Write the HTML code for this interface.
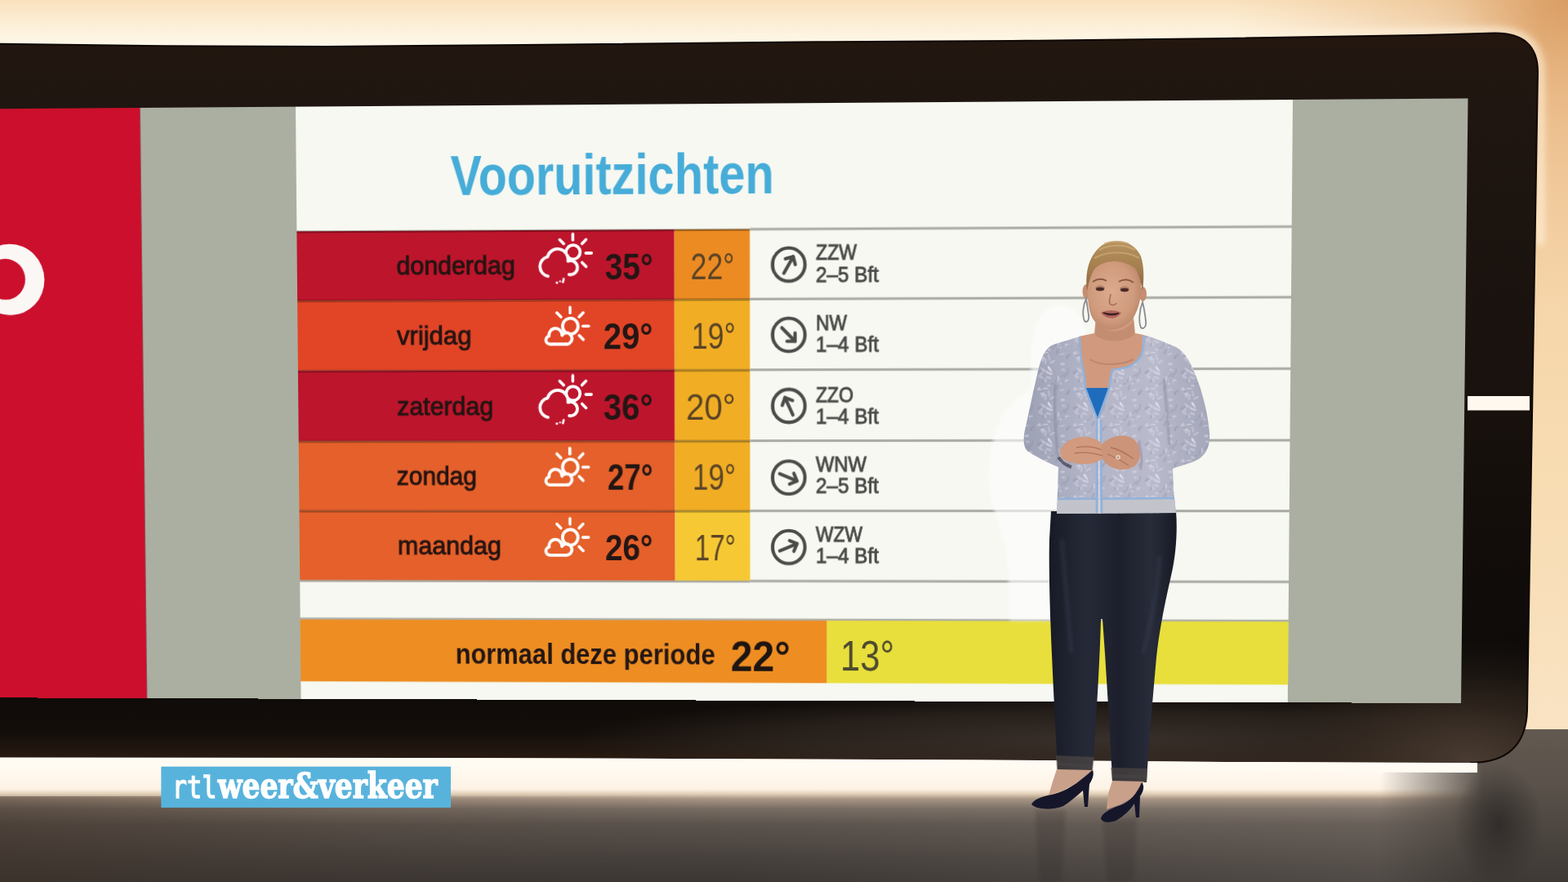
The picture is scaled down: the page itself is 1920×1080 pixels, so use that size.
<!DOCTYPE html>
<html><head><meta charset="utf-8"><title>Vooruitzichten</title>
<style>
html,body{margin:0;padding:0}
body{width:1920px;height:1080px;overflow:hidden;position:relative;background:#4a4440;font-family:'Liberation Sans', Arial, sans-serif}
.abs{position:absolute}
#screen{left:0;top:0;width:1920px;height:1080px;transform-origin:0 0;transform:matrix3d(0.973500306,-0.00882766925,0,-1.45820624e-05,0.0143472546,1.01174318,0,1.44316108e-05,0,0,1,0,2.54867142,-0.114806314,0,1)}
</style></head><body>
<svg class="abs" style="left:0;top:0" width="1920" height="1080">
 <defs>
  <linearGradient id="wallg" gradientUnits="userSpaceOnUse" x1="0" y1="0" x2="0" y2="62">
   <stop offset="0" stop-color="#f9e1bd"/><stop offset="0.4" stop-color="#fcedd3"/><stop offset="1" stop-color="#fffaee"/>
  </linearGradient>
  <radialGradient id="wallr" gradientUnits="userSpaceOnUse" cx="1920" cy="0" r="420" gradientTransform="translate(1920 0) scale(1 0.9) translate(-1920 0)">
   <stop offset="0" stop-color="#cf8a4c" stop-opacity="0.7"/><stop offset="0.4" stop-color="#de9f62" stop-opacity="0.35"/><stop offset="1" stop-color="#e8b584" stop-opacity="0"/>
  </radialGradient>
  <linearGradient id="wallrv" x1="0" y1="0" x2="0" y2="1">
   <stop offset="0" stop-color="#f1c99c"/><stop offset="0.1" stop-color="#f3cfa4"/><stop offset="0.35" stop-color="#f5d4a8"/><stop offset="0.65" stop-color="#f8dcb2"/><stop offset="1" stop-color="#f9e3c3"/>
  </linearGradient>
  <linearGradient id="floorg" x1="0" y1="0" x2="0" y2="1">
   <stop offset="0" stop-color="#fffaf2"/><stop offset="0.1" stop-color="#fff9f0"/><stop offset="0.25" stop-color="#fdf3e5"/><stop offset="0.29" stop-color="#e2cfb6"/><stop offset="0.33" stop-color="#a99686"/><stop offset="0.41" stop-color="#786c62"/><stop offset="0.54" stop-color="#5a524c"/><stop offset="0.8" stop-color="#47413d"/><stop offset="1" stop-color="#3c3734"/>
  </linearGradient>
  <linearGradient id="framev" x1="0" y1="0" x2="0" y2="1">
   <stop offset="0" stop-color="#23170f"/><stop offset="0.1" stop-color="#1f1611"/><stop offset="0.5" stop-color="#18110d"/><stop offset="0.88" stop-color="#0d0a08"/><stop offset="0.96" stop-color="#140e0a"/><stop offset="1" stop-color="#2c1e14"/>
  </linearGradient>
  <radialGradient id="frameR" cx="0.5" cy="0.5" r="0.5">
   <stop offset="0" stop-color="#4c3e33" stop-opacity="0.9"/><stop offset="0.5" stop-color="#3a2e25" stop-opacity="0.6"/><stop offset="1" stop-color="#2a211b" stop-opacity="0"/>
  </radialGradient>
  <radialGradient id="legsh" cx="0.5" cy="0.5" r="0.5">
   <stop offset="0" stop-color="#2a2624" stop-opacity="0.8"/><stop offset="1" stop-color="#2a2624" stop-opacity="0"/>
  </radialGradient>
 </defs>
 <linearGradient id="hfade" gradientUnits="userSpaceOnUse" x1="1790" y1="0" x2="1890" y2="0"><stop offset="0" stop-color="#fff"/><stop offset="1" stop-color="#000"/></linearGradient>
 <mask id="bandmask"><rect x="0" y="0" width="1920" height="62" fill="url(#hfade)"/></mask>
 <rect x="1760" y="0" width="160" height="900" fill="url(#wallrv)"/>
 <rect x="0" y="0" width="1920" height="62" fill="url(#wallg)" mask="url(#bandmask)"/>
 <rect x="1300" y="0" width="620" height="900" fill="url(#wallr)"/>
 <rect x="1872" y="893" width="48" height="8" fill="#fbf1e4"/>
 <rect x="0" y="928" width="1920" height="152" fill="url(#floorg)"/>
 <linearGradient id="floorL" x1="0" y1="0" x2="1" y2="0"><stop offset="0" stop-color="#3a2c22" stop-opacity="0.45"/><stop offset="0.5" stop-color="#3a2c22" stop-opacity="0.15"/><stop offset="1" stop-color="#3a2c22" stop-opacity="0"/></linearGradient>
 <rect x="0" y="975" width="900" height="105" fill="url(#floorL)"/>
 <linearGradient id="floorRt" gradientUnits="userSpaceOnUse" x1="900" y1="0" x2="1700" y2="0"><stop offset="0" stop-color="#9a9088" stop-opacity="0"/><stop offset="1" stop-color="#9a9088" stop-opacity="0.22"/></linearGradient>
 <rect x="900" y="980" width="1020" height="100" fill="url(#floorRt)"/>
 <linearGradient id="floorRv" x1="0" y1="0" x2="0" y2="1"><stop offset="0" stop-color="#625950"/><stop offset="0.35" stop-color="#5a524b"/><stop offset="1" stop-color="#3e3935"/></linearGradient>
 <linearGradient id="fadeRm" gradientUnits="userSpaceOnUse" x1="1690" y1="0" x2="1815" y2="0"><stop offset="0" stop-color="#000"/><stop offset="1" stop-color="#fff"/></linearGradient>
 <mask id="frm"><rect x="1600" y="890" width="320" height="190" fill="url(#fadeRm)"/></mask>
 <rect x="1600" y="893" width="320" height="187" fill="url(#floorRv)" mask="url(#frm)"/>
 <ellipse cx="1835" cy="1010" rx="55" ry="75" fill="url(#legsh)"/>
 <filter id="halo"><feGaussianBlur stdDeviation="4"/></filter>
 <path d="M1500,44 L1830,38 Q1886,38 1886,90 L1886,300" stroke="#fff3de" stroke-width="10" fill="none" opacity="0.7" filter="url(#halo)"/>
 <path d="M-10,53.4 L0,53.7 L200,56.2 L400,57 L640,55 L1000,51.3 L1240,50 L1500,46.9 L1740,43.1 L1830,40.5 Q1883,40 1883,88 L1870,870 Q1868,934 1800,934 L1500,933 L1200,930.5 L600,928.2 L-10,927.4 Z" fill="url(#framev)"/>
 <clipPath id="frclip"><path d="M-10,53.4 L0,53.7 L200,56.2 L400,57 L640,55 L1000,51.3 L1240,50 L1500,46.9 L1740,43.1 L1830,40.5 Q1883,40 1883,88 L1870,870 Q1868,934 1800,934 L1500,933 L1200,930.5 L600,928.2 L-10,927.4 Z"/></clipPath>
 <radialGradient id="frameB" cx="0.5" cy="0.5" r="0.5"><stop offset="0" stop-color="#3e3530" stop-opacity="0.85"/><stop offset="0.6" stop-color="#3a312b" stop-opacity="0.5"/><stop offset="1" stop-color="#3a312b" stop-opacity="0"/></radialGradient>
 <ellipse cx="1350" cy="905" rx="650" ry="55" fill="url(#frameB)" clip-path="url(#frclip)"/>
 <ellipse cx="1800" cy="930" rx="260" ry="150" fill="url(#frameR)" clip-path="url(#frclip)"/>
 <path d="M-10,53.4 L0,53.7 L200,56.2 L400,57 L640,55 L1000,51.3 L1240,50 L1500,46.9 L1740,43.1 L1830,40.5 Q1883,40 1883,88 L1870,870 Q1868,934 1800,934" stroke="#100805" stroke-width="2" fill="none"/>
 <path d="M0,927.4 L600,928.2 L1200,930.5 L1500,933 L1809,934 L1809,946 L1500,945 L1200,942.5 L600,940.5 L0,940 Z" fill="#fffbf3"/>
 <rect x="1797" y="485" width="76" height="17.5" fill="#fff8ee"/>
</svg>
<div id="screen" class="abs"><svg width="1920" height="1080" style="position:absolute;left:0;top:0;overflow:visible"><rect x="-60" y="132" width="231.5" height="723" fill="#cb0f2d"/><path fill-rule="evenodd" fill="#fbf7f5" d="M-38.5,340.3 a43.5,43.5 0 1,0 87,0 a43.5,43.5 0 1,0 -87,0 Z M-25.7,339.8 a25,25 0 1,0 50,0 a25,25 0 1,0 -50,0 Z"/><rect x="171.5" y="132" width="196" height="723" fill="#abafa1"/><rect x="366" y="132" width="1222" height="723" fill="#f6f8f1"/><rect x="1587" y="132" width="210" height="723" fill="#abafa1"/><text x="558.0" y="239.8" font-family="'Liberation Sans', Arial, sans-serif" font-weight="700" font-size="69" fill="#46acd8" textLength="399.4" lengthAdjust="spacingAndGlyphs">Vooruitzichten</text><rect x="366" y="283.0" width="468.6" height="84.19999999999999" fill="#bd152c"/><rect x="834.6" y="283.0" width="92.79999999999995" height="84.19999999999999" fill="#ec8b22"/><rect x="366" y="282.0" width="561.4" height="3" fill="#000" opacity="0.3"/><rect x="366" y="367.2" width="468.6" height="85.5" fill="#e14526"/><rect x="834.6" y="367.2" width="92.79999999999995" height="85.5" fill="#f1ae24"/><rect x="366" y="366.2" width="561.4" height="3" fill="#000" opacity="0.3"/><rect x="366" y="452.7" width="468.6" height="85.90000000000003" fill="#bd152c"/><rect x="834.6" y="452.7" width="92.79999999999995" height="85.90000000000003" fill="#f1ae24"/><rect x="366" y="451.7" width="561.4" height="3" fill="#000" opacity="0.3"/><rect x="366" y="538.6" width="468.6" height="85.10000000000002" fill="#e5602a"/><rect x="834.6" y="538.6" width="92.79999999999995" height="85.10000000000002" fill="#f1ae24"/><rect x="366" y="537.6" width="561.4" height="3" fill="#000" opacity="0.3"/><rect x="366" y="623.7" width="468.6" height="85.39999999999998" fill="#e5602a"/><rect x="834.6" y="623.7" width="92.79999999999995" height="85.39999999999998" fill="#f6c934"/><rect x="366" y="622.7" width="561.4" height="3" fill="#000" opacity="0.3"/><rect x="927.4" y="281.5" width="659.6" height="3" fill="#a9aaa4"/><rect x="927.4" y="365.7" width="659.6" height="3" fill="#a9aaa4"/><rect x="927.4" y="451.2" width="659.6" height="3" fill="#a9aaa4"/><rect x="927.4" y="537.1" width="659.6" height="3" fill="#a9aaa4"/><rect x="927.4" y="622.2" width="659.6" height="3" fill="#a9aaa4"/><rect x="927.4" y="707.6" width="659.6" height="3" fill="#a9aaa4"/><rect x="366" y="708.6" width="561.4" height="2.5" fill="#a9aaa4"/><text x="490.1" y="335.6" font-family="'Liberation Sans', Arial, sans-serif" font-weight="400" font-size="31" fill="#251412" stroke="#251412" stroke-width="0.95" textLength="147.5" lengthAdjust="spacingAndGlyphs">donderdag</text><text x="748.7" y="343.3" font-family="'Liberation Sans', Arial, sans-serif" font-weight="700" font-size="44" fill="#231614" textLength="59.5" lengthAdjust="spacingAndGlyphs">35°</text><text x="854.5" y="342.6" font-family="'Liberation Sans', Arial, sans-serif" font-weight="400" font-size="44" fill="#5a4326" textLength="54.2" lengthAdjust="spacingAndGlyphs">22°</text><text x="489.9" y="420.6" font-family="'Liberation Sans', Arial, sans-serif" font-weight="400" font-size="31" fill="#251412" stroke="#251412" stroke-width="0.95" textLength="93.1" lengthAdjust="spacingAndGlyphs">vrijdag</text><text x="746.6" y="427.4" font-family="'Liberation Sans', Arial, sans-serif" font-weight="700" font-size="44" fill="#231614" textLength="61.2" lengthAdjust="spacingAndGlyphs">29°</text><text x="855.6" y="427.5" font-family="'Liberation Sans', Arial, sans-serif" font-weight="400" font-size="44" fill="#5a4326" textLength="54.4" lengthAdjust="spacingAndGlyphs">19°</text><text x="489.5" y="506.6" font-family="'Liberation Sans', Arial, sans-serif" font-weight="400" font-size="31" fill="#251412" stroke="#251412" stroke-width="0.95" textLength="120.1" lengthAdjust="spacingAndGlyphs">zaterdag</text><text x="746.3" y="512.9" font-family="'Liberation Sans', Arial, sans-serif" font-weight="700" font-size="44" fill="#231614" textLength="61.3" lengthAdjust="spacingAndGlyphs">36°</text><text x="848.4" y="513.0" font-family="'Liberation Sans', Arial, sans-serif" font-weight="400" font-size="44" fill="#5a4326" textLength="61.5" lengthAdjust="spacingAndGlyphs">20°</text><text x="488.6" y="592.3" font-family="'Liberation Sans', Arial, sans-serif" font-weight="400" font-size="31" fill="#251412" stroke="#251412" stroke-width="0.95" textLength="99.9" lengthAdjust="spacingAndGlyphs">zondag</text><text x="751.0" y="598.3" font-family="'Liberation Sans', Arial, sans-serif" font-weight="700" font-size="44" fill="#231614" textLength="56.3" lengthAdjust="spacingAndGlyphs">27°</text><text x="856.3" y="598.3" font-family="'Liberation Sans', Arial, sans-serif" font-weight="400" font-size="44" fill="#5a4326" textLength="53.5" lengthAdjust="spacingAndGlyphs">19°</text><text x="489.0" y="677.0" font-family="'Liberation Sans', Arial, sans-serif" font-weight="400" font-size="31" fill="#251412" stroke="#251412" stroke-width="0.95" textLength="129.6" lengthAdjust="spacingAndGlyphs">maandag</text><text x="747.7" y="684.0" font-family="'Liberation Sans', Arial, sans-serif" font-weight="700" font-size="44" fill="#231614" textLength="59.4" lengthAdjust="spacingAndGlyphs">26°</text><text x="859.1" y="683.8" font-family="'Liberation Sans', Arial, sans-serif" font-weight="400" font-size="44" fill="#5a4326" textLength="50.5" lengthAdjust="spacingAndGlyphs">17°</text><g transform="translate(709.2,310.9)"><line x1="0.0" y1="-16.0" x2="0.0" y2="-23.0" stroke="#fff" stroke-width="3.6" stroke-linecap="round"/><line x1="-11.3" y1="-11.3" x2="-16.3" y2="-16.3" stroke="#fff" stroke-width="3.6" stroke-linecap="round"/><line x1="11.3" y1="-11.3" x2="16.3" y2="-16.3" stroke="#fff" stroke-width="3.6" stroke-linecap="round"/><line x1="16.0" y1="0.0" x2="23.0" y2="0.0" stroke="#fff" stroke-width="3.6" stroke-linecap="round"/><line x1="11.3" y1="11.3" x2="16.3" y2="16.3" stroke="#fff" stroke-width="3.6" stroke-linecap="round"/><circle cx="0.3" cy="-1.2" r="8.6" fill="none" stroke="#fff" stroke-width="3.8"/><path d="M-31.07,27.72 A11.9,11.9 0 0 1 -31.5,4.36 A13,13 0 0 1 -6.09,9.58 A8.5,8.5 0 1 1 -4.48,25.87" fill="#bd152c" stroke="#fff" stroke-width="3.8" stroke-linecap="round" stroke-linejoin="round"/><line x1="-11.5" y1="31" x2="-12.5" y2="35" stroke="#fff" stroke-width="2.6" stroke-linecap="round"/><circle cx="-20" cy="35.5" r="1.5" fill="#fff"/><circle cx="-16" cy="34" r="1.2" fill="#fff"/></g><g transform="translate(705.3,399.3)"><line x1="0.0" y1="-16.0" x2="0.0" y2="-23.0" stroke="#fff" stroke-width="3.6" stroke-linecap="round"/><line x1="-11.3" y1="-11.3" x2="-16.3" y2="-16.3" stroke="#fff" stroke-width="3.6" stroke-linecap="round"/><line x1="11.3" y1="-11.3" x2="16.3" y2="-16.3" stroke="#fff" stroke-width="3.6" stroke-linecap="round"/><line x1="16.0" y1="0.0" x2="23.0" y2="0.0" stroke="#fff" stroke-width="3.6" stroke-linecap="round"/><line x1="11.3" y1="11.3" x2="16.3" y2="16.3" stroke="#fff" stroke-width="3.6" stroke-linecap="round"/><circle cx="0.3" cy="0" r="9.6" fill="none" stroke="#fff" stroke-width="3.8"/><path d="M-25,21.7 L-5,21.7 A6.8,6.8 0 1 0 -10.1,11 A8,8 0 1 0 -26,11.8 A5,5 0 0 0 -25,21.7 Z" fill="#e14526" stroke="#fff" stroke-width="3.8" stroke-linecap="round" stroke-linejoin="round"/></g><g transform="translate(708.4,482.1)"><line x1="0.0" y1="-16.0" x2="0.0" y2="-23.0" stroke="#fff" stroke-width="3.6" stroke-linecap="round"/><line x1="-11.3" y1="-11.3" x2="-16.3" y2="-16.3" stroke="#fff" stroke-width="3.6" stroke-linecap="round"/><line x1="11.3" y1="-11.3" x2="16.3" y2="-16.3" stroke="#fff" stroke-width="3.6" stroke-linecap="round"/><line x1="16.0" y1="0.0" x2="23.0" y2="0.0" stroke="#fff" stroke-width="3.6" stroke-linecap="round"/><line x1="11.3" y1="11.3" x2="16.3" y2="16.3" stroke="#fff" stroke-width="3.6" stroke-linecap="round"/><circle cx="0.3" cy="-1.2" r="8.6" fill="none" stroke="#fff" stroke-width="3.8"/><path d="M-31.07,27.72 A11.9,11.9 0 0 1 -31.5,4.36 A13,13 0 0 1 -6.09,9.58 A8.5,8.5 0 1 1 -4.48,25.87" fill="#bd152c" stroke="#fff" stroke-width="3.8" stroke-linecap="round" stroke-linejoin="round"/><line x1="-11.5" y1="31" x2="-12.5" y2="35" stroke="#fff" stroke-width="2.6" stroke-linecap="round"/><circle cx="-20" cy="35.5" r="1.5" fill="#fff"/><circle cx="-16" cy="34" r="1.2" fill="#fff"/></g><g transform="translate(704.5,570.5)"><line x1="0.0" y1="-16.0" x2="0.0" y2="-23.0" stroke="#fff" stroke-width="3.6" stroke-linecap="round"/><line x1="-11.3" y1="-11.3" x2="-16.3" y2="-16.3" stroke="#fff" stroke-width="3.6" stroke-linecap="round"/><line x1="11.3" y1="-11.3" x2="16.3" y2="-16.3" stroke="#fff" stroke-width="3.6" stroke-linecap="round"/><line x1="16.0" y1="0.0" x2="23.0" y2="0.0" stroke="#fff" stroke-width="3.6" stroke-linecap="round"/><line x1="11.3" y1="11.3" x2="16.3" y2="16.3" stroke="#fff" stroke-width="3.6" stroke-linecap="round"/><circle cx="0.3" cy="0" r="9.6" fill="none" stroke="#fff" stroke-width="3.8"/><path d="M-25,21.7 L-5,21.7 A6.8,6.8 0 1 0 -10.1,11 A8,8 0 1 0 -26,11.8 A5,5 0 0 0 -25,21.7 Z" fill="#e5602a" stroke="#fff" stroke-width="3.8" stroke-linecap="round" stroke-linejoin="round"/></g><g transform="translate(704.1,656.1)"><line x1="0.0" y1="-16.0" x2="0.0" y2="-23.0" stroke="#fff" stroke-width="3.6" stroke-linecap="round"/><line x1="-11.3" y1="-11.3" x2="-16.3" y2="-16.3" stroke="#fff" stroke-width="3.6" stroke-linecap="round"/><line x1="11.3" y1="-11.3" x2="16.3" y2="-16.3" stroke="#fff" stroke-width="3.6" stroke-linecap="round"/><line x1="16.0" y1="0.0" x2="23.0" y2="0.0" stroke="#fff" stroke-width="3.6" stroke-linecap="round"/><line x1="11.3" y1="11.3" x2="16.3" y2="16.3" stroke="#fff" stroke-width="3.6" stroke-linecap="round"/><circle cx="0.3" cy="0" r="9.6" fill="none" stroke="#fff" stroke-width="3.8"/><path d="M-25,21.7 L-5,21.7 A6.8,6.8 0 1 0 -10.1,11 A8,8 0 1 0 -26,11.8 A5,5 0 0 0 -25,21.7 Z" fill="#e5602a" stroke="#fff" stroke-width="3.8" stroke-linecap="round" stroke-linejoin="round"/></g><g transform="translate(975.2,325.8)" fill="none" stroke="#4b4b49" stroke-width="4.1" stroke-linecap="round" stroke-linejoin="round"><circle r="20"/><g transform="rotate(30)"><line x1="0" y1="12" x2="0" y2="-11"/><polyline points="-7,-4 0,-11 7,-4"/></g></g><text x="1008.5" y="320.1" font-family="'Liberation Sans', Arial, sans-serif" font-size="25" fill="#4a4a48" stroke="#4a4a48" stroke-width="0.9" textLength="50.1" lengthAdjust="spacingAndGlyphs">ZZW</text><text x="1008.5" y="346.6" font-family="'Liberation Sans', Arial, sans-serif" font-size="25" fill="#4a4a48" stroke="#4a4a48" stroke-width="0.9" textLength="77.1" lengthAdjust="spacingAndGlyphs">2–5 Bft</text><g transform="translate(975.2,410.5)" fill="none" stroke="#4b4b49" stroke-width="4.1" stroke-linecap="round" stroke-linejoin="round"><circle r="20"/><g transform="rotate(135)"><line x1="0" y1="12" x2="0" y2="-11"/><polyline points="-7,-4 0,-11 7,-4"/></g></g><text x="1008.5" y="404.7" font-family="'Liberation Sans', Arial, sans-serif" font-size="25" fill="#4a4a48" stroke="#4a4a48" stroke-width="0.9" textLength="38.1" lengthAdjust="spacingAndGlyphs">NW</text><text x="1008.5" y="431.3" font-family="'Liberation Sans', Arial, sans-serif" font-size="25" fill="#4a4a48" stroke="#4a4a48" stroke-width="0.9" textLength="77.2" lengthAdjust="spacingAndGlyphs">1–4 Bft</text><g transform="translate(975.2,496.4)" fill="none" stroke="#4b4b49" stroke-width="4.1" stroke-linecap="round" stroke-linejoin="round"><circle r="20"/><g transform="rotate(-25)"><line x1="0" y1="12" x2="0" y2="-11"/><polyline points="-7,-4 0,-11 7,-4"/></g></g><text x="1008.5" y="492.3" font-family="'Liberation Sans', Arial, sans-serif" font-size="25" fill="#4a4a48" stroke="#4a4a48" stroke-width="0.9" textLength="46.2" lengthAdjust="spacingAndGlyphs">ZZO</text><text x="1008.5" y="517.8" font-family="'Liberation Sans', Arial, sans-serif" font-size="25" fill="#4a4a48" stroke="#4a4a48" stroke-width="0.9" textLength="77.3" lengthAdjust="spacingAndGlyphs">1–4 Bft</text><g transform="translate(975.1,583.2)" fill="none" stroke="#4b4b49" stroke-width="4.1" stroke-linecap="round" stroke-linejoin="round"><circle r="20"/><g transform="rotate(112)"><line x1="0" y1="12" x2="0" y2="-11"/><polyline points="-7,-4 0,-11 7,-4"/></g></g><text x="1008.5" y="576.1" font-family="'Liberation Sans', Arial, sans-serif" font-size="25" fill="#4a4a48" stroke="#4a4a48" stroke-width="0.9" textLength="62.3" lengthAdjust="spacingAndGlyphs">WNW</text><text x="1008.5" y="602.3" font-family="'Liberation Sans', Arial, sans-serif" font-size="25" fill="#4a4a48" stroke="#4a4a48" stroke-width="0.9" textLength="77.4" lengthAdjust="spacingAndGlyphs">2–5 Bft</text><g transform="translate(975.1,667.8)" fill="none" stroke="#4b4b49" stroke-width="4.1" stroke-linecap="round" stroke-linejoin="round"><circle r="20"/><g transform="rotate(68)"><line x1="0" y1="12" x2="0" y2="-11"/><polyline points="-7,-4 0,-11 7,-4"/></g></g><text x="1008.5" y="661.5" font-family="'Liberation Sans', Arial, sans-serif" font-size="25" fill="#4a4a48" stroke="#4a4a48" stroke-width="0.9" textLength="57.3" lengthAdjust="spacingAndGlyphs">WZW</text><text x="1008.5" y="687.0" font-family="'Liberation Sans', Arial, sans-serif" font-size="25" fill="#4a4a48" stroke="#4a4a48" stroke-width="0.9" textLength="77.5" lengthAdjust="spacingAndGlyphs">1–4 Bft</text><rect x="366" y="756.2" width="656.2" height="77.2" fill="#ee8d22"/><rect x="1022.2" y="756.2" width="565" height="77.2" fill="#e8df3c"/><rect x="366" y="754.8" width="1221" height="2.4" fill="#b0b0a8"/><text x="560.4" y="811.0" font-family="'Liberation Sans', Arial, sans-serif" font-weight="700" font-size="36" fill="#231614" textLength="323.7" lengthAdjust="spacingAndGlyphs">normaal deze periode</text><text x="903.3" y="818.9" font-family="'Liberation Sans', Arial, sans-serif" font-weight="700" font-size="51" fill="#1e1512" textLength="73.6" lengthAdjust="spacingAndGlyphs">22°</text><text x="1038.8" y="818.4" font-family="'Liberation Sans', Arial, sans-serif" font-weight="400" font-size="51" fill="#4d4a2e" textLength="66.5" lengthAdjust="spacingAndGlyphs">13°</text></svg></div>
<svg class="abs" style="left:0;top:0" width="1920" height="1080"><defs>
 <linearGradient id="jk" x1="0" y1="0" x2="1" y2="0">
  <stop offset="0" stop-color="#9da1b4"/><stop offset="0.35" stop-color="#b3b5c8"/><stop offset="0.7" stop-color="#b9bacb"/><stop offset="1" stop-color="#a4a7ba"/>
 </linearGradient>
 <linearGradient id="jn" x1="0" y1="0" x2="1" y2="0">
  <stop offset="0" stop-color="#181b26"/><stop offset="0.3" stop-color="#262a38"/><stop offset="0.55" stop-color="#1c1f2b"/><stop offset="0.8" stop-color="#282c3a"/><stop offset="1" stop-color="#171a24"/>
 </linearGradient>
 <radialGradient id="face" cx="0.45" cy="0.45" r="0.6">
  <stop offset="0" stop-color="#dcaa8e"/><stop offset="0.7" stop-color="#cf9a7c"/><stop offset="1" stop-color="#b98468"/>
 </radialGradient>
 <linearGradient id="hair" x1="0" y1="0" x2="0" y2="1">
  <stop offset="0" stop-color="#b8935f"/><stop offset="0.6" stop-color="#a27c4c"/><stop offset="1" stop-color="#8a6540"/>
 </linearGradient>
 <pattern id="tex" width="44" height="44" patternUnits="userSpaceOnUse"><ellipse cx="19.9" cy="24.6" rx="4.3" ry="1.3" transform="rotate(91 19.9 24.6)" fill="#e4e2f0" opacity="0.40"/><ellipse cx="8.1" cy="22.5" rx="3.6" ry="1.6" transform="rotate(17 8.1 22.5)" fill="#e4e2f0" opacity="0.33"/><ellipse cx="4.0" cy="35.6" rx="3.7" ry="0.9" transform="rotate(177 4.0 35.6)" fill="#e4e2f0" opacity="0.49"/><ellipse cx="48.0" cy="35.6" rx="3.7" ry="0.9" transform="rotate(177 48.0 35.6)" fill="#e4e2f0" opacity="0.49"/><ellipse cx="28.8" cy="27.1" rx="2.4" ry="0.9" transform="rotate(95 28.8 27.1)" fill="#e4e2f0" opacity="0.26"/><ellipse cx="8.4" cy="10.6" rx="2.1" ry="1.3" transform="rotate(79 8.4 10.6)" fill="#e4e2f0" opacity="0.46"/><ellipse cx="22.8" cy="28.2" rx="3.2" ry="1.5" transform="rotate(82 22.8 28.2)" fill="#e4e2f0" opacity="0.32"/><ellipse cx="-0.1" cy="-0.2" rx="4.1" ry="1.5" transform="rotate(57 -0.1 -0.2)" fill="#e4e2f0" opacity="0.31"/><ellipse cx="-0.1" cy="43.8" rx="4.1" ry="1.5" transform="rotate(57 -0.1 43.8)" fill="#e4e2f0" opacity="0.31"/><ellipse cx="43.9" cy="-0.2" rx="4.1" ry="1.5" transform="rotate(57 43.9 -0.2)" fill="#e4e2f0" opacity="0.31"/><ellipse cx="43.9" cy="43.8" rx="4.1" ry="1.5" transform="rotate(57 43.9 43.8)" fill="#e4e2f0" opacity="0.31"/><ellipse cx="12.7" cy="3.1" rx="3.9" ry="1.3" transform="rotate(152 12.7 3.1)" fill="#e4e2f0" opacity="0.35"/><ellipse cx="12.7" cy="47.1" rx="3.9" ry="1.3" transform="rotate(152 12.7 47.1)" fill="#e4e2f0" opacity="0.35"/><ellipse cx="-1.8" cy="37.3" rx="2.0" ry="1.1" transform="rotate(164 -1.8 37.3)" fill="#e4e2f0" opacity="0.37"/><ellipse cx="42.2" cy="37.3" rx="2.0" ry="1.1" transform="rotate(164 42.2 37.3)" fill="#e4e2f0" opacity="0.37"/><ellipse cx="-0.9" cy="17.5" rx="2.2" ry="1.5" transform="rotate(140 -0.9 17.5)" fill="#e4e2f0" opacity="0.32"/><ellipse cx="43.1" cy="17.5" rx="2.2" ry="1.5" transform="rotate(140 43.1 17.5)" fill="#e4e2f0" opacity="0.32"/><ellipse cx="3.8" cy="14.6" rx="4.4" ry="1.6" transform="rotate(21 3.8 14.6)" fill="#e4e2f0" opacity="0.31"/><ellipse cx="47.8" cy="14.6" rx="4.4" ry="1.6" transform="rotate(21 47.8 14.6)" fill="#e4e2f0" opacity="0.31"/><ellipse cx="4.4" cy="2.6" rx="4.0" ry="1.1" transform="rotate(101 4.4 2.6)" fill="#e4e2f0" opacity="0.36"/><ellipse cx="4.4" cy="46.6" rx="4.0" ry="1.1" transform="rotate(101 4.4 46.6)" fill="#e4e2f0" opacity="0.36"/><ellipse cx="48.4" cy="2.6" rx="4.0" ry="1.1" transform="rotate(101 48.4 2.6)" fill="#e4e2f0" opacity="0.36"/><ellipse cx="48.4" cy="46.6" rx="4.0" ry="1.1" transform="rotate(101 48.4 46.6)" fill="#e4e2f0" opacity="0.36"/><ellipse cx="8.4" cy="32.2" rx="2.3" ry="1.5" transform="rotate(21 8.4 32.2)" fill="#e4e2f0" opacity="0.36"/><ellipse cx="9.4" cy="11.9" rx="4.4" ry="1.6" transform="rotate(55 9.4 11.9)" fill="#e4e2f0" opacity="0.47"/><ellipse cx="9.3" cy="17.3" rx="4.1" ry="1.5" transform="rotate(18 9.3 17.3)" fill="#e4e2f0" opacity="0.50"/><ellipse cx="9.4" cy="11.4" rx="3.9" ry="1.2" transform="rotate(53 9.4 11.4)" fill="#e4e2f0" opacity="0.27"/><ellipse cx="4.0" cy="25.6" rx="2.6" ry="1.4" transform="rotate(67 4.0 25.6)" fill="#e4e2f0" opacity="0.36"/><ellipse cx="48.0" cy="25.6" rx="2.6" ry="1.4" transform="rotate(67 48.0 25.6)" fill="#e4e2f0" opacity="0.36"/><ellipse cx="-1.8" cy="21.3" rx="3.4" ry="1.7" transform="rotate(33 -1.8 21.3)" fill="#e4e2f0" opacity="0.29"/><ellipse cx="42.2" cy="21.3" rx="3.4" ry="1.7" transform="rotate(33 42.2 21.3)" fill="#e4e2f0" opacity="0.29"/><ellipse cx="-4.0" cy="36.0" rx="2.6" ry="1.1" transform="rotate(133 -4.0 36.0)" fill="#e4e2f0" opacity="0.49"/><ellipse cx="40.0" cy="36.0" rx="2.6" ry="1.1" transform="rotate(133 40.0 36.0)" fill="#e4e2f0" opacity="0.49"/><ellipse cx="8.6" cy="-2.2" rx="4.2" ry="1.4" transform="rotate(76 8.6 -2.2)" fill="#e4e2f0" opacity="0.28"/><ellipse cx="8.6" cy="41.8" rx="4.2" ry="1.4" transform="rotate(76 8.6 41.8)" fill="#e4e2f0" opacity="0.28"/><ellipse cx="1.7" cy="-1.6" rx="2.6" ry="1.5" transform="rotate(46 1.7 -1.6)" fill="#e4e2f0" opacity="0.46"/><ellipse cx="1.7" cy="42.4" rx="2.6" ry="1.5" transform="rotate(46 1.7 42.4)" fill="#e4e2f0" opacity="0.46"/><ellipse cx="45.7" cy="-1.6" rx="2.6" ry="1.5" transform="rotate(46 45.7 -1.6)" fill="#e4e2f0" opacity="0.46"/><ellipse cx="45.7" cy="42.4" rx="2.6" ry="1.5" transform="rotate(46 45.7 42.4)" fill="#e4e2f0" opacity="0.46"/><ellipse cx="26.2" cy="12.9" rx="2.4" ry="1.5" transform="rotate(12 26.2 12.9)" fill="#e4e2f0" opacity="0.31"/><ellipse cx="24.6" cy="37.5" rx="3.5" ry="1.2" transform="rotate(165 24.6 37.5)" fill="#e4e2f0" opacity="0.30"/><ellipse cx="0.7" cy="11.8" rx="3.1" ry="1.0" transform="rotate(32 0.7 11.8)" fill="#e4e2f0" opacity="0.34"/><ellipse cx="44.7" cy="11.8" rx="3.1" ry="1.0" transform="rotate(32 44.7 11.8)" fill="#e4e2f0" opacity="0.34"/><ellipse cx="25.2" cy="5.8" rx="2.9" ry="1.7" transform="rotate(176 25.2 5.8)" fill="#e4e2f0" opacity="0.41"/><ellipse cx="25.2" cy="49.8" rx="2.9" ry="1.7" transform="rotate(176 25.2 49.8)" fill="#e4e2f0" opacity="0.41"/><ellipse cx="30.4" cy="25.7" rx="2.4" ry="0.9" transform="rotate(3 30.4 25.7)" fill="#e4e2f0" opacity="0.48"/><ellipse cx="30.8" cy="42.4" rx="2.0" ry="1.6" transform="rotate(87 30.8 42.4)" fill="#85879e" opacity="0.25"/><ellipse cx="32.1" cy="14.0" rx="4.0" ry="1.1" transform="rotate(98 32.1 14.0)" fill="#85879e" opacity="0.25"/><ellipse cx="32.4" cy="39.6" rx="3.5" ry="1.7" transform="rotate(143 32.4 39.6)" fill="#85879e" opacity="0.25"/><ellipse cx="40.3" cy="15.5" rx="3.4" ry="1.9" transform="rotate(157 40.3 15.5)" fill="#85879e" opacity="0.25"/><ellipse cx="18.4" cy="34.8" rx="3.7" ry="1.6" transform="rotate(112 18.4 34.8)" fill="#85879e" opacity="0.25"/><ellipse cx="16.8" cy="25.6" rx="3.2" ry="1.1" transform="rotate(115 16.8 25.6)" fill="#85879e" opacity="0.25"/><ellipse cx="43.7" cy="38.7" rx="3.5" ry="1.4" transform="rotate(132 43.7 38.7)" fill="#85879e" opacity="0.25"/><ellipse cx="25.6" cy="19.4" rx="3.7" ry="1.1" transform="rotate(135 25.6 19.4)" fill="#85879e" opacity="0.25"/><ellipse cx="1.3" cy="26.5" rx="3.0" ry="1.2" transform="rotate(126 1.3 26.5)" fill="#85879e" opacity="0.25"/><ellipse cx="21.9" cy="27.0" rx="3.8" ry="1.3" transform="rotate(2 21.9 27.0)" fill="#85879e" opacity="0.25"/><ellipse cx="13.2" cy="29.8" rx="2.4" ry="1.2" transform="rotate(163 13.2 29.8)" fill="#85879e" opacity="0.25"/><ellipse cx="29.0" cy="19.4" rx="3.8" ry="1.3" transform="rotate(120 29.0 19.4)" fill="#85879e" opacity="0.25"/></pattern>
 <filter id="blur2"><feGaussianBlur stdDeviation="2"/></filter>
 <filter id="blur1"><feGaussianBlur stdDeviation="0.8"/></filter>
</defs><path d="M1298,374 C1318,374 1330,392 1330,418 L1330,760 L1236,760 C1235,720 1236,690 1230,665 C1224,645 1212,615 1211,590 C1210,560 1215,530 1228,508 C1238,492 1252,482 1264,476 C1262,460 1262,430 1265,410 C1270,388 1282,374 1298,374 Z" fill="#ffffff" opacity="0.6" filter="url(#blur2)"/><path d="M1287,626 L1440,626 C1442,650 1440,680 1434,705 C1426,740 1419,775 1416,805 C1412,850 1407,905 1404,958 L1362,957 C1360,905 1356,850 1353,800 L1350,758 L1348,758 C1347,800 1344,850 1341,900 L1337,946 L1295,943 C1293,900 1290,850 1288,802 C1286,760 1284,700 1285,660 Z" fill="url(#jn)"/><path d="M1300,660 C1305,720 1310,780 1312,800 M1420,680 C1418,720 1410,760 1400,800" stroke="#3a3f52" stroke-width="4" fill="none" opacity="0.5" filter="url(#blur2)"/><path d="M1295,935 L1337,939" stroke="#30343f" stroke-width="4" opacity="0.7"/><path d="M1362,950 L1403,951" stroke="#30343f" stroke-width="4" opacity="0.7"/><path d="M1268,992 L1305,992 L1300,1080 L1272,1080 Z" fill="#2a2628" opacity="0.2" filter="url(#blur2)"/><path d="M1350,1006 L1392,1000 L1388,1080 L1356,1080 Z" fill="#2a2628" opacity="0.2" filter="url(#blur2)"/><path d="M1293,925 L1340,927 L1338,944 L1294,943 Z" fill="#5a5048" opacity="0.55"/><path d="M1360,940 L1405,941 L1404,958 L1362,957 Z" fill="#5a5048" opacity="0.55"/><path d="M1294,942 L1338,943 L1322,957 L1302,968 L1284,974 L1289,957 Z" fill="#c9a08a"/><path d="M1362,956 L1401,957 L1390,974 L1372,985 L1355,991 L1357,972 Z" fill="#c9a08a"/><path d="M1263,985 C1266,979 1276,975 1288,973 C1300,970 1312,964 1322,956 C1330,950 1335,945 1338,943 C1340,948 1338,954 1334,960 L1332,988 L1328,988 L1326,968 C1318,975 1310,982 1302,987 C1292,991 1272,993 1263,985 Z" fill="#15162a"/><path d="M1348,1002 C1350,995 1360,990 1372,986 C1384,981 1392,972 1398,958 C1402,962 1400,970 1396,975 L1395,1001 L1391,1001 L1389,984 C1384,992 1376,999 1368,1004 C1360,1008 1350,1008 1348,1002 Z" fill="#15162a"/><path d="M1342,388 L1388,388 L1390,408 L1400,410 L1398,440 L1382,450 L1362,452 L1357,478 L1327,478 L1325,452 L1321,412 L1340,408 Z" fill="#d19a7e"/><path d="M1342,392 C1350,410 1378,410 1388,392 L1389,410 C1376,420 1352,420 1341,410 Z" fill="#b07a62" opacity="0.4"/><path d="M1335,440 C1345,448 1372,448 1388,440" stroke="#b57a60" stroke-width="2" fill="none" opacity="0.6"/><path id="jkt" d="M1322,412 C1310,416 1298,419 1290,422 C1282,425 1277,432 1272,450 C1266,475 1261,500 1256,522 C1252,538 1253,548 1259,553 C1270,560 1284,567 1296,572 L1295,600 L1294,629 L1440,628 L1437,600 L1436,574 C1445,570 1460,567 1468,562 C1478,555 1482,545 1481,530 C1479,505 1472,480 1465,462 C1458,444 1452,432 1440,425 C1428,420 1415,414 1400,410 C1402,425 1398,440 1384,448 C1375,452 1366,452 1362,453 C1360,462 1359,470 1358,476 L1344,513 L1329,476 C1329,468 1328,460 1326,452 C1323,440 1322,428 1322,412 Z" fill="url(#jk)"/><path d="M1322,412 C1310,416 1298,419 1290,422 C1282,425 1277,432 1272,450 C1266,475 1261,500 1256,522 C1252,538 1253,548 1259,553 C1270,560 1284,567 1296,572 L1295,600 L1294,629 L1440,628 L1437,600 L1436,574 C1445,570 1460,567 1468,562 C1478,555 1482,545 1481,530 C1479,505 1472,480 1465,462 C1458,444 1452,432 1440,425 C1428,420 1415,414 1400,410 C1402,425 1398,440 1384,448 C1375,452 1366,452 1362,453 C1360,462 1359,470 1358,476 L1344,513 L1329,476 C1329,468 1328,460 1326,452 C1323,440 1322,428 1322,412 Z" fill="url(#tex)"/><path d="M1328,475 L1359,475 L1344,514 Z" fill="#1f6cbc"/><path d="M1292,470 C1290,500 1292,530 1296,560" stroke="#8a8da0" stroke-width="3" fill="none" opacity="0.7" filter="url(#blur1)"/><path d="M1425,465 C1428,490 1430,515 1432,545" stroke="#8a8da0" stroke-width="3" fill="none" opacity="0.6" filter="url(#blur1)"/><path d="M1295,612 L1438,611 L1440,628 L1294,629 Z" fill="#c3c3cb"/><g fill="none" stroke="#8fb2dc" stroke-width="2.6" opacity="0.95"><path d="M1322,413 C1322,428 1323,440 1326,452 C1328,460 1329,468 1329,476 L1343,512"/><path d="M1400,411 C1402,426 1398,440 1384,448 C1375,452 1366,452 1362,453 C1360,462 1359,470 1358,476 L1345,512"/><path d="M1296,611 L1438,610"/><path d="M1343,514 L1343,628 M1348,514 L1349,628"/></g><path d="M1345.5,512 L1346,629" stroke="#d8d8e0" stroke-width="1.6"/><path d="M1298,552 C1302,540 1316,534 1330,535 C1342,536 1352,542 1353,550 C1354,560 1346,567 1334,568 C1320,569 1306,566 1299,560 Z" fill="#d29a7e"/><path d="M1349,546 C1354,537 1367,532 1380,534 C1391,537 1397,546 1396,558 C1395,569 1386,575 1374,575 C1362,575 1352,568 1349,560 Z" fill="#cc9478"/><g stroke="#a86a52" stroke-width="1.3" fill="none" opacity="0.8"><path d="M1318,548 C1328,546 1340,547 1349,551"/><path d="M1316,555 C1328,553 1340,555 1350,558"/><path d="M1360,548 C1370,550 1380,556 1388,562"/><path d="M1356,556 C1366,560 1376,566 1382,570"/></g><circle cx="1369" cy="560" r="2.2" fill="none" stroke="#e8e0d0" stroke-width="1.2"/><path d="M1296,560 C1300,566 1306,570 1312,572" stroke="#2a2a3a" stroke-width="4" fill="none" opacity="0.6"/><path d="M1394,540 C1400,560 1398,572 1396,575" stroke="#a9a0b4" stroke-width="3" fill="none"/><ellipse cx="1330" cy="357" rx="4.5" ry="9" fill="#c58e72"/><ellipse cx="1399.5" cy="360" rx="4.5" ry="9" fill="#c58e72"/><path d="M1365,319 C1382,319 1395,328 1397,345 C1398,360 1396,374 1389,387 C1383,397 1372,404 1358,404 C1348,403 1340,395 1336,386 C1332,375 1331,360 1332,345 C1334,328 1348,319 1365,319 Z" fill="url(#face)"/><path d="M1331,356 C1329,340 1331,322 1340,310 C1347,300 1356,295 1367,295 C1380,295 1392,302 1397,314 C1401,326 1401,342 1399,356 C1397,346 1395,336 1390,329 C1382,322 1372,320 1364,320 C1354,320 1344,324 1339,331 C1335,338 1333,346 1331,356 Z" fill="url(#hair)"/><path d="M1346,306 C1356,300 1375,298 1390,306 M1340,316 C1355,308 1378,306 1395,316 M1352,298 C1362,295 1372,295 1382,298" stroke="#d4b583" stroke-width="2.2" fill="none" opacity="0.55"/><path d="M1338,345 C1344,341 1350,341 1355,344 M1370,345 C1376,341 1383,342 1388,346" stroke="#8a5a40" stroke-width="2" fill="none"/><ellipse cx="1347" cy="353" rx="6" ry="3.4" fill="#9a6a5a" opacity="0.6"/><ellipse cx="1347" cy="354" rx="5" ry="2.2" fill="#4a2c26"/><ellipse cx="1377" cy="354" rx="6" ry="3.4" fill="#9a6a5a" opacity="0.6"/><ellipse cx="1377" cy="355" rx="5" ry="2.2" fill="#4a2c26"/><path d="M1360,360 C1359,367 1357,371 1360,373 C1363,374 1366,373 1367,371" stroke="#a86c54" stroke-width="1.6" fill="none"/><path d="M1348,383 C1355,379 1366,379 1373,383 C1367,392 1355,392 1348,383 Z" fill="#b0655e"/><path d="M1351,383 C1358,386.5 1364,386.5 1370,383.5 C1364,385 1358,385 1351,383 Z" fill="#3a1e1e" stroke="#3a1e1e" stroke-width="1.4"/><path d="M1330,366 C1326,374 1325,386 1328,393 C1331,396 1334,392 1333,386 C1332,378 1331,372 1330,366 Z" fill="none" stroke="#8a8a90" stroke-width="1.8"/><path d="M1399,370 C1395,380 1394,394 1397,401 C1400,404 1404,400 1403,393 C1402,384 1401,377 1399,370 Z" fill="none" stroke="#8a8a90" stroke-width="1.8"/></svg>
<svg class="abs" style="left:0;top:0" width="1920" height="1080">
<rect x="197.3" y="938.7" width="354.7" height="50.2" fill="#58b3dc"/>
<text x="210.8" y="976.7" font-family="'DejaVu Sans Mono',monospace" font-weight="400" font-size="38" fill="#fdfefe" stroke="#fdfefe" stroke-width="1.5" textLength="54.5" lengthAdjust="spacingAndGlyphs">rtl</text>
<text x="266.8" y="976.7" font-family="'DejaVu Serif Condensed','DejaVu Serif',serif" font-weight="700" font-size="42" fill="#fdfefe" stroke="#fdfefe" stroke-width="1.3" textLength="269" lengthAdjust="spacingAndGlyphs">weer&amp;verkeer</text>
</svg>
</body></html>
